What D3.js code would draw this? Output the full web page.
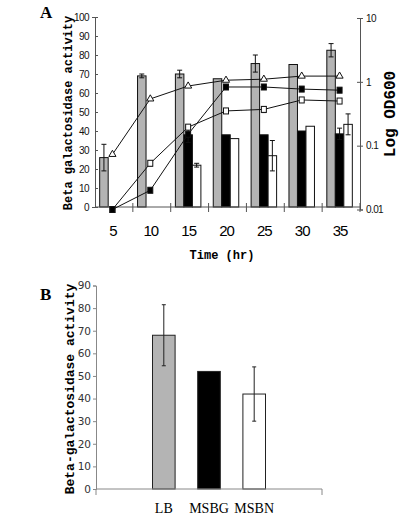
<!DOCTYPE html>
<html><head><meta charset="utf-8">
<script src="https://cdn.jsdelivr.net/npm/d3@7"></script>
<style>body{margin:0;background:#fff}svg{display:block}</style>
</head><body>
<svg id="c" width="403" height="517"></svg>
<script>
// Panel A data
const times = [5, 10, 15, 20, 25, 30, 35];
const grayA = [26, 69, 70, 67.5, 75.5, 75, 82.5];
const grayAErr = [7, 1, 2, 0, 4.5, 0, 3.5];
const blackA = [0, 0, 38, 38, 38, 40, 38.5];
const blackAErr = [0, 0, 4, 0, 0, 0, 3];
const whiteA = [0, 0, 22, 36, 27, 42.5, 43.5];
const whiteAErr = [0, 0, 1, 0, 8, 0, 5.5];
const odTriangle = [0.073, 0.54, 0.86, 1.06, 1.1, 1.23, 1.23];
const odFilled = [0.01, 0.02, 0.151, 0.83, 0.83, 0.77, 0.74];
const odOpen = [0.01, 0.053, 0.195, 0.35, 0.37, 0.52, 0.5];
const odOpenErr = [0, 0.005, 0, 0, 0.04, 0, 0];
const leftTicksA = [0, 10, 20, 30, 40, 50, 60, 70, 80, 90, 100];
const rightTicksA = [10, 1, 0.1, 0.01];
const rightTickLabelsA = ["10", "1", "0.1", "0.01"];
// Panel B data
const mediaB = ["LB", "MSBG", "MSBN"];
const valuesB = [68, 52, 42];
const errB = [13.5, 0, 12];
const ticksB = [0, 10, 20, 30, 40, 50, 60, 70, 80, 90];

const svg = d3.select("#c");
const fills = ["#b4b4b4", "#000", "#fff"];

// ---------- Panel A ----------
const xA = d3.scaleBand().domain(times).range([95, 360]);
const seriesNames = ["gray", "black", "white"];
const xInner = d3.scaleBand().domain(seriesNames).range([0, 25.5]);
const yA = d3.scaleLinear().domain([0, 100]).range([207, 17]);
const yLog = d3.scaleLog().domain([0.01, 10]).range([209.5, 18]);
const groupOff = (xA.bandwidth() - 25.5) / 2 - 1.5;

const gA = svg.append("g");
const barData = [];
const seriesVals = [grayA, blackA, whiteA];
const seriesErr = [grayAErr, blackAErr, whiteAErr];
times.forEach((t, i) => {
  seriesNames.forEach((s, k) => {
    barData.push({t, s, k, v: seriesVals[k][i], e: seriesErr[k][i]});
  });
});
gA.selectAll("rect.bar").data(barData.filter(d => d.v > 0)).join("rect")
  .attr("x", d => xA(d.t) + groupOff + xInner(d.s))
  .attr("y", d => yA(d.v))
  .attr("width", xInner.bandwidth())
  .attr("height", d => yA(0) - yA(d.v))
  .attr("fill", d => fills[d.k])
  .attr("stroke", "#111").attr("stroke-width", 1);

const errG = gA.selectAll("g.err").data(barData.filter(d => d.e > 0)).join("g");
errG.each(function(d) {
  const cx = xA(d.t) + groupOff + xInner(d.s) + xInner.bandwidth() / 2;
  const g = d3.select(this);
  g.append("line").attr("x1", cx).attr("x2", cx).attr("y1", yA(d.v + d.e)).attr("y2", yA(d.v - d.e)).attr("stroke", "#111");
  [d.v + d.e, d.v - d.e].forEach(v => g.append("line").attr("x1", cx - 2.5).attr("x2", cx + 2.5).attr("y1", yA(v)).attr("y2", yA(v)).attr("stroke", "#111"));
});

// Axes A
const leftAx = gA.append("g").attr("transform", "translate(95,0)")
  .call(d3.axisLeft(yA).tickValues(leftTicksA).tickSize(3).tickPadding(3));
leftAx.select(".domain").attr("stroke", "#555");
leftAx.selectAll(".tick line").attr("x2", 3).attr("stroke", "#555");
leftAx.selectAll("text").attr("font-family", "Liberation Sans, Arial").attr("font-size", 10).attr("letter-spacing", -0.6).attr("fill", "#111");

const rightAx = gA.append("g").attr("transform", "translate(360,0)")
  .call(d3.axisRight(yLog).tickValues(rightTicksA).tickFormat((d, i) => rightTickLabelsA[i]).tickSize(3).tickPadding(3));
rightAx.select(".domain").attr("stroke", "#555");
rightAx.selectAll(".tick line").attr("x1", -3).attr("stroke", "#555");
rightAx.selectAll("text").attr("font-family", "Liberation Sans, Arial").attr("font-size", 10).attr("letter-spacing", -0.6).attr("fill", "#111");

// x axis A
gA.append("line").attr("x1", 95).attr("x2", 360).attr("y1", 207).attr("y2", 207).attr("stroke", "#555");
const bounds = times.map(t => xA(t)).concat([360]);
gA.selectAll("line.xt").data(bounds.slice(1)).join("line")
  .attr("x1", d => d).attr("x2", d => d).attr("y1", 203).attr("y2", 212).attr("stroke", "#555");
gA.selectAll("text.xl").data(times).join("text")
  .attr("x", d => xA(d) + xA.bandwidth() / 2 - 1)
  .attr("y", 236).attr("text-anchor", "middle")
  .attr("font-family", "Liberation Sans, Arial").attr("font-size", 15).attr("letter-spacing", -1)
  .text(d => d);

// lines A
const mx = t => xA(t) + xA.bandwidth() / 2 - 1.5;
const lineGen = d3.line().x(d => mx(d.t)).y(d => yLog(d.v));
const lineSets = [
  {vals: odTriangle, shape: "tri"},
  {vals: odOpen, shape: "osq"},
  {vals: odFilled, shape: "fsq"}
];
lineSets.forEach(ls => {
  const pts = times.map((t, i) => ({t, v: ls.vals[i]}));
  gA.append("path").datum(pts).attr("d", lineGen).attr("fill", "none").attr("stroke", "#111").attr("stroke-width", 1);
});
// error bars on open squares
times.forEach((t, i) => {
  const e = odOpenErr[i];
  if (e > 0) {
    const cx = mx(t);
    [odOpen[i] + e, odOpen[i] - e].forEach(v => gA.append("line").attr("x1", cx - 2.5).attr("x2", cx + 2.5).attr("y1", yLog(v)).attr("y2", yLog(v)).attr("stroke", "#111"));
    gA.append("line").attr("x1", cx).attr("x2", cx).attr("y1", yLog(odOpen[i] + e)).attr("y2", yLog(odOpen[i] - e)).attr("stroke", "#111");
  }
});
lineSets.forEach(ls => {
  times.forEach((t, i) => {
    const cx = mx(t), cy = yLog(ls.vals[i]);
    if (ls.shape === "tri") {
      gA.append("path").attr("d", d3.symbol(d3.symbolTriangle, 22)()).attr("transform", `translate(${cx},${cy})`)
        .attr("fill", "#fff").attr("stroke", "#111");
    } else {
      gA.append("rect").attr("x", cx - 2.5).attr("y", cy - 3).attr("width", 5).attr("height", 6)
        .attr("fill", ls.shape === "fsq" ? "#000" : "#fff").attr("stroke", "#111");
    }
  });
});

// labels A
svg.append("text").attr("x", 40).attr("y", 18).attr("font-family", "Liberation Serif, Times New Roman").attr("font-weight", "bold").attr("font-size", 17).text("A");
svg.append("text").attr("transform", "translate(72,113) rotate(-90)").attr("text-anchor", "middle")
  .attr("font-family", "Liberation Mono, Courier New").attr("font-weight", "bold").attr("font-size", 12)
  .text("Beta galactosidase activity");
svg.append("text").attr("transform", "translate(395,114) rotate(-90)").attr("text-anchor", "middle")
  .attr("font-family", "Liberation Mono, Courier New").attr("font-weight", "bold").attr("font-size", 16)
  .text("Log OD600");
svg.append("text").attr("x", 222).attr("y", 259).attr("text-anchor", "middle")
  .attr("font-family", "Liberation Mono, Courier New").attr("font-weight", "bold").attr("font-size", 12)
  .text("Time (hr)");

// ---------- Panel B ----------
const gB = svg.append("g");
const xB = d3.scaleBand().domain(mediaB).range([96 + 45.2, 322 - 45.2]).paddingInner(0.5).paddingOuter(0.25);
const yB = d3.scaleLinear().domain([0, 90]).range([489, 285.5]);
gB.selectAll("rect").data(mediaB).join("rect")
  .attr("x", d => xB(d)).attr("y", (d, i) => yB(valuesB[i]))
  .attr("width", xB.bandwidth()).attr("height", (d, i) => yB(0) - yB(valuesB[i]))
  .attr("fill", (d, i) => fills[i]).attr("stroke", "#222").attr("stroke-width", 1);
mediaB.forEach((m, i) => {
  if (errB[i] > 0) {
    const cx = xB(m) + xB.bandwidth() / 2;
    gB.append("line").attr("x1", cx).attr("x2", cx).attr("y1", yB(valuesB[i] + errB[i])).attr("y2", yB(valuesB[i] - errB[i])).attr("stroke", "#222");
    [valuesB[i] + errB[i], valuesB[i] - errB[i]].forEach(v => gB.append("line").attr("x1", cx - 2).attr("x2", cx + 2).attr("y1", yB(v)).attr("y2", yB(v)).attr("stroke", "#222"));
  }
});
const leftB = gB.append("g").attr("transform", "translate(96,0)")
  .call(d3.axisLeft(yB).tickValues(ticksB).tickSize(3).tickPadding(2));
leftB.select(".domain").attr("stroke", "#888");
leftB.selectAll(".tick line").attr("stroke", "#888");
leftB.selectAll("text").attr("font-family", "DejaVu Sans, Verdana").attr("font-size", 10.5).attr("fill", "#333");
gB.append("line").attr("x1", 96).attr("x2", 96).attr("y1", 489).attr("y2", 495).attr("stroke", "#888");
gB.append("line").attr("x1", 96).attr("x2", 322).attr("y1", 489).attr("y2", 489).attr("stroke", "#888");
gB.append("line").attr("x1", 322).attr("x2", 322).attr("y1", 489).attr("y2", 495).attr("stroke", "#888");
gB.selectAll("text.xl").data(mediaB).join("text")
  .attr("x", d => xB(d) + xB.bandwidth() / 2).attr("y", 513).attr("text-anchor", "middle")
  .attr("font-family", "Liberation Serif, Times New Roman").attr("font-size", 14).text(d => d);
svg.append("text").attr("x", 40).attr("y", 300).attr("font-family", "Liberation Serif, Times New Roman").attr("font-weight", "bold").attr("font-size", 17).text("B");
svg.append("text").attr("transform", "translate(74,389) rotate(-90)").attr("text-anchor", "middle")
  .attr("font-family", "Liberation Mono, Courier New").attr("font-weight", "bold").attr("font-size", 13)
  .text("Beta-galactosidase activity");
</script>
</body></html>
